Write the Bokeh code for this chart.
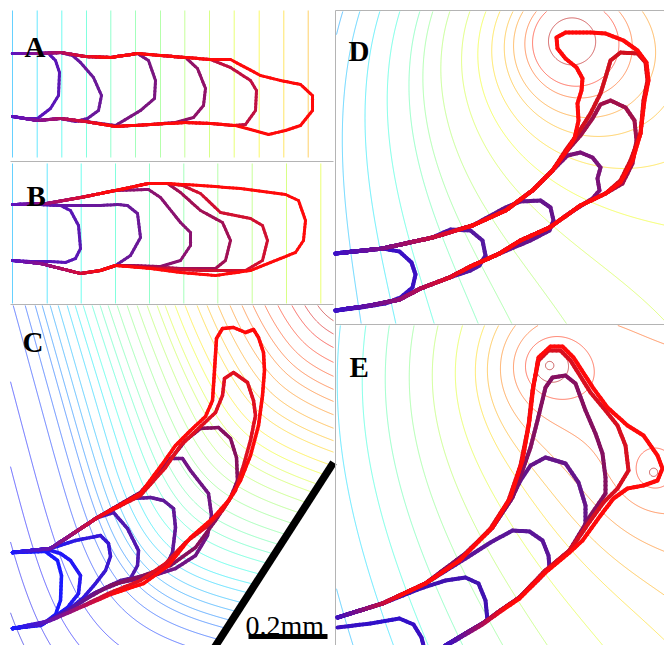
import numpy as np
from bokeh.plotting import figure
from bokeh.models import Range1d
from bokeh.embed import file_html
from bokeh.resources import INLINE
from bokeh.core.properties import value

# ---------------- background field data ----------------
A_line_x = [12, 36.7, 61.3, 86, 110.3, 135, 160, 184.3, 209, 233.7, 258.7, 283.3, 307.7]
A_line_y = [10, 157]
B_line_x = [12, 46.7, 80.7, 115, 149, 183.3, 217.3, 251.7, 286, 320.3]
B_line_y = [163, 303]

# panel C: source in the upper right corner; contours crossing the row y=306,
# plus outer contours that enter from the left edge
C_src = (342, 292)
C_side = (0.36, 0.933)     # direction of the long (left) sides of the iso-lines
C_base = (0.978, 0.208)    # direction of the short (lower) sides
C_stretch = 1.1
C_power_inner = 2.5
C_power_outer = 10.0
C_power_scale = 330.0
C_kappa = 0.0003
C_cross_y = 306
C_cross_x = [13, 25, 35, 42, 50, 58, 67, 75, 83, 92, 100, 108, 117, 127, 137, 147,
             157, 165, 175, 185, 197, 207, 218, 230, 242, 253, 265, 278, 292, 305, 318]
C_edge_y = [385, 470, 545, 615]

# panel D: source near the top right, contours crossing the row y=12
D_src = (570, 40)
D_gamma = 0.0032
D_dir = (0.866, 0.5)
D_cross_pts = [(342, 12), (359, 12), (379, 12), (399, 12), (419, 12), (432, 12), (449, 12),
               (469, 12), (485, 12), (499, 12), (512, 12), (522, 12), (535, 12), (545, 12), (548, 40)]
D_cross_jet = [0.28, 0.31, 0.35, 0.39, 0.45, 0.50, 0.55, 0.60, 0.64, 0.68, 0.72, 0.76, 0.82, 0.88, 0.95]

# panel E: two sources, contours crossing the row y=365 (left of first source)
E_src1 = (549, 365)
E_src2 = (653, 472)
E_weight = 0.70
E_grad = 0.0048
E_cross_pts = [(352, 643), (337, 365), (362, 365), (385, 365), (409, 365), (432, 365), (455, 365),
               (475, 365), (487, 365), (500, 365), (513, 365), (525, 365), (545, 365), (649, 472)]
E_cross_jet = [0.30, 0.34, 0.39, 0.45, 0.50, 0.56, 0.62, 0.68, 0.73, 0.78, 0.82, 0.87, 0.96, 0.96]

# ---------------- outlines ----------------
A1 = [(12,53),(30,53),(48,53),(55,60),(59,72),(58,95),(50,108),(37,118),(24,118),(12,116)]
A2 = [(12,53),(37,53),(60,52),(72,55),(80,62),(93,77),(101,95),(98,110),(87,118),(75,121),(60,118),(37,120),(12,116)]
A3 = [(12,53),(37,53),(60,52),(85,56),(110,57),(137,53),(148,60),(155,80),(154,98),(140,110),(115,125),(85,121),(60,118),(37,120),(12,116)]
A4 = [(12,53),(37,53),(60,52),(85,56),(110,57),(137,53),(160,55),(185,57),(197,68),(205,88),(203,105),(193,117),(175,122),(150,124),(115,126),(85,121),(60,118),(37,120),(12,116)]
A5 = [(12,53),(37,53),(60,52),(85,56),(110,57),(137,53),(160,55),(185,57),(210,59),(230,67),(250,80),(256,90),(255,110),(245,124),(233,125),(210,123),(185,122),(150,124),(115,126),(85,121),(60,118),(37,120),(12,116)]
A6 = [(12,53),(37,53),(60,52),(85,56),(110,57),(137,53),(160,55),(185,57),(210,59),(230,59),(260,75),(280,80),(300,84),(312,95),(312,110),(300,125),(285,130),(268,134),(250,129),(235,125),(210,123),(185,122),(150,124),(115,126),(85,121),(60,118),(37,120),(12,116)]
A_tips = ["#5a18b0", "#6a1898", "#7a1580", "#901268", "#c01040", "#ff0a0a"]

B1 = [(12,204),(40,204),(60,205),(70,210),(78,225),(80,248),(75,258),(65,262),(50,261),(30,261),(12,260)]
B2 = [(12,204),(40,204),(60,205),(80,205),(100,205),(117,204),(127,205),(137,213),(140,237),(130,255),(115,265),(100,270),(80,273),(60,268),(40,263),(12,260)]
B3 = [(12,204),(46,203),(80,197),(115,190),(148,189),(160,197),(180,222),(190,232),(190,245),(180,260),(160,266),(130,265),(115,265),(100,270),(80,273),(60,268),(40,263),(12,260)]
B4 = [(12,204),(46,203),(80,197),(115,190),(148,183),(167,183),(180,192),(200,210),(222,222),(230,240),(225,260),(215,268),(180,268),(130,265),(115,265),(100,270),(80,273),(60,268),(40,263),(12,260)]
B5 = [(12,204),(46,203),(80,197),(115,190),(148,183),(167,183),(182,185),(200,193),(220,212),(250,218),(262,225),(267,240),(262,260),(245,270),(200,270),(160,268),(130,266),(115,265),(100,270),(80,273),(60,268),(40,263),(12,260)]
B6 = [(12,204),(46,203),(80,197),(115,190),(148,183),(167,183),(200,185),(240,188),(285,194),(298,200),(305,220),(303,240),(295,252),(280,258),(250,270),(215,275),(180,272),(150,268),(115,265),(100,270),(80,273),(60,268),(40,263),(12,260)]
B_tips = ["#5a18b0", "#6a1898", "#8a1270", "#a01055", "#d01030", "#ff0a0a"]

C1 = [(12,552),(45,551),(57,560),(61,575),(60,600),(55,614),(42,624),(12,628)]
C2 = [(12,552),(50,550),(60,553),(70,560),(80,575),(78,593),(67,607),(53,617),(40,625),(12,628)]
C3 = [(12,552),(50,548),(75,540),(100,535),(108,543),(110,556),(105,570),(95,583),(83,597),(67,610),(45,622),(12,628)]
C4 = [(12,552),(50,548),(97,517),(113,512),(127,528),(138,550),(137,565),(130,578),(110,585),(90,595),(67,610),(40,624),(12,628)]
C5 = [(12,552),(50,548),(97,517),(133,498),(150,497),(163,500),(173,508),(175,527),(172,552),(165,567),(145,575),(120,580),(95,592),(67,610),(40,624),(12,628)]
C6 = [(12,552),(50,548),(97,517),(140,492),(160,470),(170,458),(182,458),(190,470),(208,493),(211,515),(207,535),(195,555),(175,568),(150,576),(120,582),(95,592),(67,610),(40,624),(12,628)]
C7 = [(12,552),(50,548),(97,517),(140,492),(165,465),(185,440),(200,428),(218,427),(230,438),(236,457),(237,480),(230,497),(215,520),(195,547),(170,565),(140,576),(110,585),(90,596),(67,610),(40,624),(12,628)]
C8 = [(12,552),(50,548),(97,517),(140,495),(165,467),(180,445),(198,428),(215,412),(222,395),(224,378),(233,372),(247,382),(253,400),(255,415),(250,440),(243,465),(235,490),(222,510),(205,527),(185,542),(165,563),(140,580),(110,592),(87,603),(67,612),(40,624),(12,628)]
C9 = [(12,552),(50,548),(97,517),(140,493),(163,462),(175,445),(190,430),(205,416),(212,400),(214,370),(216,338),(222,328),(233,327),(245,332),(253,329),(258,337),(263,352),(264,370),(262,395),(258,425),(250,455),(240,480),(228,500),(213,517),(190,537),(168,565),(143,583),(110,594),(80,607),(50,620),(12,628)]
C_tips = ["#1a1aff", "#2a18ee", "#3a18d0", "#5018b0", "#601898", "#701585", "#85105e", "#e01020", "#ff0a0a"]

D1 = [(335,253),(382,248),(399,251),(411,262),(415,274),(412,287),(400,297),(385,303),(360,307),(335,310)]
D2 = [(335,253),(382,248),(432,237),(450,229),(470,230),(482,240),(485,255),(479,265),(470,270),(449,277),(420,288),(399,299),(370,305),(335,310)]
D3 = [(335,253),(382,248),(432,237),(472,225),(505,207),(520,201),(540,200),(550,207),(553,220),(549,230),(530,240),(499,253),(470,266),(449,277),(420,288),(399,299),(370,305),(335,310)]
D4 = [(335,253),(382,248),(432,237),(472,225),(505,210),(532,190),(555,167),(567,155),(580,152),(592,157),(600,167),(597,178),(599,190),(592,198),(570,212),(549,227),(520,240),(499,253),(470,266),(449,277),(420,288),(399,299),(370,305),(335,310)]
D5 = [(335,253),(382,248),(432,237),(472,225),(505,210),(532,190),(552,170),(567,150),(580,135),(592,118),(600,104),(610,100),(625,107),(634,120),(636,140),(632,163),(622,183),(605,193),(580,205),(549,227),(520,240),(499,253),(470,266),(449,277),(420,288),(399,299),(370,305),(335,310)]
D6 = [(335,253),(382,248),(432,237),(472,225),(505,210),(532,190),(552,170),(565,150),(578,132),(590,113),(600,93),(605,77),(610,60),(620,52),(637,53),(645,62),(647,80),(643,100),(640,133),(630,160),(620,180),(605,193),(580,205),(549,227),(520,240),(499,253),(470,266),(449,277),(420,288),(399,299),(370,305),(335,310)]
D7 = [(335,253),(382,248),(432,237),(472,225),(505,210),(532,190),(552,170),(565,152),(574,138),(578,120),(577,103),(581,90),(582,78),(576,67),(565,58),(557,48),(556,37),(565,32),(590,32),(605,33),(623,40),(637,50),(646,62),(648,80),(644,100),(640,133),(632,160),(620,182),(605,193),(580,205),(549,227),(520,240),(499,253),(470,266),(449,277),(420,288),(399,299),(370,305),(335,310)]
D_tips = ["#3a10c0", "#5518a0", "#65158c", "#7a1278", "#a0104a", "#d0101e", "#ff0a0a"]

E1 = [(337,627),(370,623),(399,618),(413,624),(421,637),(423,645)]
E2 = [(337,617),(382,603),(420,588),(445,580),(465,577),(478,583),(485,600),(487,620),(470,630),(455,640),(445,645)]
E3 = [(337,617),(382,603),(425,583),(465,558),(490,542),(512,530),(529,531),(542,540),(548,555),(549,567),(540,577),(519,597),(500,610),(482,623),(465,633),(445,645)]
E4 = [(337,617),(382,603),(425,583),(465,553),(492,527),(510,500),(520,480),(530,465),(545,457),(565,463),(578,482),(585,505),(585,527),(569,550),(545,570),(519,597),(500,610),(482,623),(465,633),(445,645)]
E5 = [(337,617),(382,603),(425,583),(465,553),(492,527),(512,497),(522,470),(530,447),(537,420),(545,387),(552,377),(565,375),(575,383),(585,410),(595,433),(602,453),(605,477),(605,493),(590,515),(569,550),(545,570),(519,597),(500,610),(482,623),(465,633),(445,645)]
E6 = [(337,617),(382,603),(425,583),(459,560),(490,528),(508,500),(520,465),(528,425),(532,390),(538,360),(548,350),(560,350),(570,360),(590,392),(605,410),(617,425),(625,445),(628,470),(617,488),(603,502),(585,527),(569,550),(545,570),(519,597),(500,610),(482,623),(465,633),(445,645)]
E7 = [(337,617),(382,603),(425,583),(459,560),(492,527),(510,497),(522,460),(529,420),(533,385),(538,357),(550,346),(562,346),(573,357),(593,388),(607,407),(627,425),(643,435),(657,455),(662,468),(657,480),(643,485),(627,488),(613,498),(600,515),(582,540),(569,552),(545,572),(519,598),(500,611),(482,624),(465,634),(445,645)]
E_tips = ["#2a10d0", "#4012b0", "#5a1598", "#65158a", "#851060", "#d81020", "#ff0a0a"]

# panel frames, labels, scale
labels = ["A", "B", "C", "D", "E"]
label_x = [24, 26, 22, 348, 349]
label_y = [46, 195, 341, 50, 366]
frame_x0 = [10, 10, 335, 335, 335]
frame_y0 = [161, 304, 10, 10, 324]
frame_x1 = [333, 333, 335, 664, 664]
frame_y1 = [161, 304, 647, 10, 324]
wall_x = [333, 214]
wall_y = [462, 647]
scale_text = "0.2mm"
scale_x = [248, 327]
scale_y = 636

# ---------------- helpers (styling) ----------------
def jet(t):
    r = np.interp(t, [0, 0.35, 0.66, 0.89, 1], [0, 0, 1, 1, 0.5])
    g = np.interp(t, [0, 0.125, 0.375, 0.64, 0.91, 1], [0, 0, 1, 1, 0, 0])
    b = np.interp(t, [0, 0.11, 0.34, 0.65, 1], [0.5, 1, 1, 0, 0])
    return "#%02x%02x%02x" % (int(r * 255), int(g * 255), int(b * 255))

def hex2rgb(h):
    return np.array([int(h[i:i + 2], 16) for i in (1, 3, 5)], float)

def mix(c1, c2, w):
    c = hex2rgb(c1) * (1 - w) + hex2rgb(c2) * w
    return "#%02x%02x%02x" % tuple(int(round(v)) for v in c)

W, H = 664, 645
p = figure(width=W, height=H, x_range=Range1d(0, W), y_range=Range1d(H, 0),
           output_backend="svg", toolbar_location=None, min_border=0,
           x_axis_location=None, y_axis_location=None)
p.grid.visible = False
p.outline_line_color = None
p.background_fill_color = "white"
p.border_fill_color = "white"

FIELD_ALPHA = 0.6

# A and B: straight iso-lines
p.segment(x0=A_line_x, y0=[A_line_y[0]] * len(A_line_x), x1=A_line_x, y1=[A_line_y[1]] * len(A_line_x),
          line_color=[jet(t) for t in np.linspace(0.30, 0.72, len(A_line_x))], line_width=1, line_alpha=FIELD_ALPHA)
p.segment(x0=B_line_x, y0=[B_line_y[0]] * len(B_line_x), x1=B_line_x, y1=[B_line_y[1]] * len(B_line_x),
          line_color=[jet(t) for t in np.linspace(0.30, 0.62, len(B_line_x))], line_width=1, line_alpha=FIELD_ALPHA)

def field_contours(x0, x1, y0, y1, fun, pts, jets):
    xs = np.arange(x0, x1 + 0.01, 1.0)
    ys = np.arange(y0, y1 + 0.01, 1.0)
    X, Y = np.meshgrid(xs, ys)
    Z = fun(X, Y)
    lv = [float(fun(np.array(px, float), np.array(py, float))) for px, py in pts]
    order = np.argsort(lv)
    levels = []
    cols = []
    for i in order:
        if levels and lv[i] - levels[-1] < 1e-4:
            continue
        levels.append(lv[i])
        cols.append(jet(jets[i]))
    p.contour(xs, ys, Z, levels=levels, line_color=cols, line_width=1, line_alpha=FIELD_ALPHA)

def pnorm(a, b, pw):
    m = np.maximum(a, b)
    return m * ((a / m) ** pw + (b / m) ** pw) ** (1.0 / pw)

def C_field(X, Y):
    dx = X - C_src[0]
    dy = Y - C_src[1]
    det = C_base[0] * C_side[1] - C_side[0] * C_base[1]
    s = np.abs((dx * C_side[1] - dy * C_side[0]) / det) + 1e-9
    t = (C_base[0] * dy - C_base[1] * dx) / det
    ta = np.abs(t / C_stretch) + 1e-9
    n_in = pnorm(s, ta, C_power_inner)
    n_out = pnorm(s, ta, C_power_outer)
    w = np.clip(n_out / C_power_scale, 0, 1)
    n = n_in * (1 - w) + n_out * w + 0.5
    return np.log(n) - C_kappa * t

def D_field(X, Y):
    r = np.hypot(X - D_src[0], Y - D_src[1]) + 0.5
    u = (X - D_src[0]) * D_dir[0] + (Y - D_src[1]) * D_dir[1]
    return np.log(r) - D_gamma * u

def E_field(X, Y):
    r1 = np.hypot(X - E_src1[0], Y - E_src1[1]) + 0.5
    r2 = np.hypot(X - E_src2[0], Y - E_src2[1]) + 0.5
    xm = 0.5 * (E_src1[0] + E_src2[0])
    return E_weight * np.log(r1) + (1 - E_weight) * np.log(r2) - E_grad * (X - xm)

C_pts = [(x, C_cross_y) for x in C_cross_x] + [(11, y) for y in C_edge_y]
C_jets = list(np.linspace(0.17, 0.95, len(C_cross_x))) + [0.14, 0.12, 0.10, 0.08]
field_contours(10, 333, 305, 647, C_field, C_pts, C_jets)
field_contours(336, 664, 11, 323, D_field, D_cross_pts, D_cross_jet)
field_contours(336, 664, 325, 647, E_field, E_cross_pts, E_cross_jet)

# wall in C hides the field beyond it
p.patch(x=[wall_x[0], 334.5, 334.5, wall_x[1]], y=[wall_y[0], wall_y[0], wall_y[1], wall_y[1]],
        fill_color="white", line_color=None)
p.line(x=wall_x, y=wall_y, line_color="black", line_width=7.5)

# panel frames
p.segment(x0=frame_x0, y0=frame_y0, x1=frame_x1, y1=frame_y1, line_color="#b4b4b4", line_width=1)

# outlines with a colour gradient from root to tip
def draw_shapes(shapes, tips, root, L0, width):
    xs_all, ys_all, cols = [], [], []
    for pts, tip in zip(shapes, tips):
        pts = np.array(pts, float)
        dense = [pts[0]]
        for a, b in zip(pts[:-1], pts[1:]):
            n = max(1, int(np.ceil(np.hypot(*(b - a)) / 4.0)))
            for k in range(1, n + 1):
                dense.append(a + (b - a) * k / n)
        dense = np.array(dense)
        seg = np.hypot(*np.diff(dense, axis=0).T)
        s = np.concatenate([[0], np.cumsum(seg)])
        L = s[-1]
        for i in range(len(dense) - 1):
            sm = 0.5 * (s[i] + s[i + 1])
            w = min(1.0, min(sm, L - sm) / L0)
            cols.append(mix(root, tip, w))
            xs_all.append([dense[i, 0], dense[i + 1, 0]])
            ys_all.append([dense[i, 1], dense[i + 1, 1]])
    p.multi_line(xs_all, ys_all, line_color=cols, line_width=width, line_cap="round", line_join="round")

draw_shapes([A1, A2, A3, A4, A5, A6], A_tips, "#5a12c0", 90, 3.0)
draw_shapes([B1, B2, B3, B4, B5, B6], B_tips, "#5a12c0", 90, 3.0)
draw_shapes([C1, C2, C3, C4, C5, C6, C7, C8, C9], C_tips, "#1a1aff", 110, 3.5)
draw_shapes([D1, D2, D3, D4, D5, D6, D7], D_tips, "#3a10c8", 140, 4.0)
draw_shapes([E1, E2, E3, E4, E5, E6, E7], E_tips, "#3a10c0", 70, 4.0)

# labels
p.text(x=label_x, y=label_y, text=labels, text_font=value("Liberation Serif"), text_font_style="bold",
       text_font_size="29px", text_baseline="alphabetic", text_align="left", text_color="black")

# scale bar
p.text(x=[scale_x[0] - 3], y=[scale_y - 11], text=[scale_text], text_font=value("Liberation Serif"),
       text_font_size="28px", text_baseline="alphabetic", text_align="left", text_color="black")
p.line(x=scale_x, y=[scale_y, scale_y], line_color="black", line_width=5)

open("out.html", "w").write(file_html(p, INLINE))
